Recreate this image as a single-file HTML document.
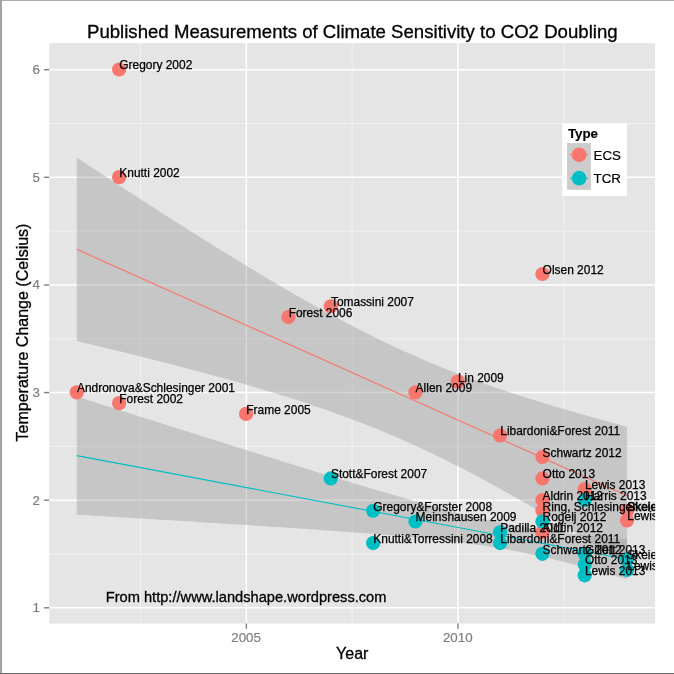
<!DOCTYPE html>
<html><head><meta charset="utf-8"><title>Published Measurements of Climate Sensitivity to CO2 Doubling</title>
<style>html,body{margin:0;padding:0;background:#fff;}body{width:674px;height:674px;overflow:hidden;}svg{display:block;}text{font-family:"Liberation Sans",sans-serif;}</style></head><body>
<svg width="674" height="674" viewBox="0 0 674 674">
<rect x="0" y="0" width="674" height="674" fill="#ffffff"/>
<rect x="0" y="0" width="674" height="1" fill="#ababab"/>
<rect x="0" y="0" width="2" height="674" fill="#a3a3a3"/>
<rect x="0" y="673" width="674" height="1" fill="#6e6e6e"/>
<defs><clipPath id="pc"><rect x="49.2" y="43.1" width="605.9" height="580.5"/></clipPath></defs>
<rect x="49.2" y="43.1" width="605.90" height="580.50" fill="#E5E5E5"/>
<g clip-path="url(#pc)">
<line x1="49.2" x2="655.1" y1="553.99" y2="553.99" stroke="#F2F2F2" stroke-width="0.9"/>
<line x1="49.2" x2="655.1" y1="446.37" y2="446.37" stroke="#F2F2F2" stroke-width="0.9"/>
<line x1="49.2" x2="655.1" y1="338.75" y2="338.75" stroke="#F2F2F2" stroke-width="0.9"/>
<line x1="49.2" x2="655.1" y1="231.13" y2="231.13" stroke="#F2F2F2" stroke-width="0.9"/>
<line x1="49.2" x2="655.1" y1="123.51" y2="123.51" stroke="#F2F2F2" stroke-width="0.9"/>
<line y1="43.1" y2="623.6" x1="140.53" x2="140.53" stroke="#F2F2F2" stroke-width="0.9"/>
<line y1="43.1" y2="623.6" x1="352.17" x2="352.17" stroke="#F2F2F2" stroke-width="0.9"/>
<line y1="43.1" y2="623.6" x1="563.82" x2="563.82" stroke="#F2F2F2" stroke-width="0.9"/>
<line x1="49.2" x2="655.1" y1="607.80" y2="607.80" stroke="#FFFFFF" stroke-width="1.5"/>
<line x1="49.2" x2="655.1" y1="500.18" y2="500.18" stroke="#FFFFFF" stroke-width="1.5"/>
<line x1="49.2" x2="655.1" y1="392.56" y2="392.56" stroke="#FFFFFF" stroke-width="1.5"/>
<line x1="49.2" x2="655.1" y1="284.94" y2="284.94" stroke="#FFFFFF" stroke-width="1.5"/>
<line x1="49.2" x2="655.1" y1="177.32" y2="177.32" stroke="#FFFFFF" stroke-width="1.5"/>
<line x1="49.2" x2="655.1" y1="69.70" y2="69.70" stroke="#FFFFFF" stroke-width="1.5"/>
<line y1="43.1" y2="623.6" x1="246.35" x2="246.35" stroke="#FFFFFF" stroke-width="1.5"/>
<line y1="43.1" y2="623.6" x1="458.00" x2="458.00" stroke="#FFFFFF" stroke-width="1.5"/>
<polygon points="76.78,157.58 83.75,162.17 90.71,166.74 97.68,171.31 104.64,175.87 111.61,180.42 118.57,184.96 125.54,189.49 132.51,194.01 139.47,198.52 146.44,203.01 153.40,207.50 160.37,211.97 167.33,216.43 174.30,220.88 181.27,225.31 188.23,229.72 195.20,234.12 202.16,238.50 209.13,242.86 216.09,247.20 223.06,251.52 230.03,255.81 236.99,260.09 243.96,264.33 250.92,268.56 257.89,272.75 264.85,276.92 271.82,281.05 278.79,285.15 285.75,289.22 292.72,293.25 299.68,297.24 306.65,301.19 313.61,305.10 320.58,308.96 327.55,312.78 334.51,316.55 341.48,320.26 348.44,323.93 355.41,327.54 362.37,331.10 369.34,334.60 376.30,338.03 383.27,341.41 390.24,344.73 397.20,347.99 404.17,351.18 411.13,354.31 418.10,357.37 425.06,360.38 432.03,363.32 439.00,366.20 445.96,369.01 452.93,371.77 459.89,374.47 466.86,377.12 473.82,379.71 480.79,382.24 487.76,384.73 494.72,387.17 501.69,389.55 508.65,391.90 515.62,394.20 522.58,396.46 529.55,398.68 536.52,400.86 543.48,403.01 550.45,405.13 557.41,407.21 564.38,409.26 571.34,411.29 578.31,413.29 585.28,415.26 592.24,417.21 599.21,419.13 606.17,421.04 613.14,422.92 620.10,424.79 627.07,426.64 627.07,564.84 620.10,560.45 613.14,556.08 606.17,551.72 599.21,547.39 592.24,543.08 585.28,538.79 578.31,534.52 571.34,530.28 564.38,526.07 557.41,521.88 550.45,517.73 543.48,513.60 536.52,509.51 529.55,505.46 522.58,501.44 515.62,497.46 508.65,493.52 501.69,489.63 494.72,485.78 487.76,481.98 480.79,478.22 473.82,474.52 466.86,470.87 459.89,467.28 452.93,463.74 445.96,460.26 439.00,456.84 432.03,453.48 425.06,450.18 418.10,446.95 411.13,443.78 404.17,440.67 397.20,437.62 390.24,434.64 383.27,431.71 376.30,428.85 369.34,426.05 362.37,423.31 355.41,420.63 348.44,418.00 341.48,415.43 334.51,412.91 327.55,410.44 320.58,408.02 313.61,405.64 306.65,403.31 299.68,401.03 292.72,398.78 285.75,396.57 278.79,394.40 271.82,392.26 264.85,390.15 257.89,388.08 250.92,386.04 243.96,384.02 236.99,382.03 230.03,380.07 223.06,378.12 216.09,376.20 209.13,374.31 202.16,372.43 195.20,370.57 188.23,368.73 181.27,366.90 174.30,365.09 167.33,363.30 160.37,361.52 153.40,359.75 146.44,358.00 139.47,356.26 132.51,354.53 125.54,352.81 118.57,351.10 111.61,349.40 104.64,347.72 97.68,346.04 90.71,344.36 83.75,342.70 76.78,341.04" fill="#999999" fill-opacity="0.4"/>
<line x1="76.78" y1="249.31" x2="627.07" y2="495.74" stroke="#F8766D" stroke-width="1.15"/>
<polygon points="76.78,396.54 83.75,398.75 90.71,400.96 97.68,403.17 104.64,405.38 111.61,407.59 118.57,409.80 125.54,412.01 132.51,414.22 139.47,416.43 146.44,418.63 153.40,420.83 160.37,423.04 167.33,425.24 174.30,427.44 181.27,429.64 188.23,431.84 195.20,434.03 202.16,436.23 209.13,438.42 216.09,440.61 223.06,442.80 230.03,444.98 236.99,447.17 243.96,449.35 250.92,451.53 257.89,453.71 264.85,455.88 271.82,458.05 278.79,460.22 285.75,462.38 292.72,464.54 299.68,466.69 306.65,468.84 313.61,470.99 320.58,473.13 327.55,475.26 334.51,477.39 341.48,479.51 348.44,481.62 355.41,483.72 362.37,485.81 369.34,487.90 376.30,489.97 383.27,492.03 390.24,494.07 397.20,496.10 404.17,498.11 411.13,500.10 418.10,502.06 425.06,504.01 432.03,505.92 439.00,507.81 445.96,509.66 452.93,511.48 459.89,513.25 466.86,514.98 473.82,516.66 480.79,518.29 487.76,519.85 494.72,521.36 501.69,522.81 508.65,524.19 515.62,525.50 522.58,526.75 529.55,527.93 536.52,529.04 543.48,530.10 550.45,531.10 557.41,532.05 564.38,532.95 571.34,533.80 578.31,534.61 585.28,535.38 592.24,536.12 599.21,536.83 606.17,537.51 613.14,538.17 620.10,538.80 627.07,539.42 627.07,579.18 620.10,577.17 613.14,575.18 606.17,573.21 599.21,571.26 592.24,569.35 585.28,567.46 578.31,565.61 571.34,563.80 564.38,562.02 557.41,560.29 550.45,558.62 543.48,556.99 536.52,555.42 529.55,553.92 522.58,552.47 515.62,551.09 508.65,549.78 501.69,548.54 494.72,547.35 487.76,546.24 480.79,545.18 473.82,544.18 466.86,543.24 459.89,542.34 452.93,541.49 445.96,540.68 439.00,539.90 432.03,539.16 425.06,538.46 418.10,537.77 411.13,537.12 404.17,536.48 397.20,535.87 390.24,535.27 383.27,534.69 376.30,534.12 369.34,533.57 362.37,533.02 355.41,532.49 348.44,531.97 341.48,531.46 334.51,530.95 327.55,530.45 320.58,529.96 313.61,529.47 306.65,528.99 299.68,528.52 292.72,528.05 285.75,527.58 278.79,527.12 271.82,526.66 264.85,526.21 257.89,525.75 250.92,525.31 243.96,524.86 236.99,524.42 230.03,523.98 223.06,523.54 216.09,523.10 209.13,522.67 202.16,522.23 195.20,521.80 188.23,521.37 181.27,520.95 174.30,520.52 167.33,520.09 160.37,519.67 153.40,519.25 146.44,518.83 139.47,518.41 132.51,517.99 125.54,517.57 118.57,517.15 111.61,516.74 104.64,516.32 97.68,515.91 90.71,515.49 83.75,515.08 76.78,514.67" fill="#999999" fill-opacity="0.4"/>
<line x1="76.78" y1="455.60" x2="627.07" y2="559.30" stroke="#00BFC4" stroke-width="1.15"/>
<circle cx="119.11" cy="69.50" r="7.1" fill="#F8766D"/>
<circle cx="119.11" cy="177.12" r="7.1" fill="#F8766D"/>
<circle cx="542.41" cy="273.98" r="7.1" fill="#F8766D"/>
<circle cx="330.76" cy="306.26" r="7.1" fill="#F8766D"/>
<circle cx="288.43" cy="317.03" r="7.1" fill="#F8766D"/>
<circle cx="457.75" cy="381.60" r="7.1" fill="#F8766D"/>
<circle cx="415.42" cy="392.36" r="7.1" fill="#F8766D"/>
<circle cx="76.78" cy="392.36" r="7.1" fill="#F8766D"/>
<circle cx="119.11" cy="403.12" r="7.1" fill="#F8766D"/>
<circle cx="246.10" cy="413.88" r="7.1" fill="#F8766D"/>
<circle cx="500.08" cy="435.41" r="7.1" fill="#F8766D"/>
<circle cx="542.41" cy="456.93" r="7.1" fill="#F8766D"/>
<circle cx="542.41" cy="478.46" r="7.1" fill="#F8766D"/>
<circle cx="584.74" cy="489.22" r="7.1" fill="#F8766D"/>
<circle cx="542.41" cy="499.98" r="7.1" fill="#F8766D"/>
<circle cx="542.41" cy="510.74" r="7.1" fill="#F8766D"/>
<circle cx="627.07" cy="510.74" r="7.1" fill="#F8766D"/>
<circle cx="627.07" cy="520.43" r="7.1" fill="#F8766D"/>
<circle cx="542.41" cy="532.27" r="7.1" fill="#F8766D"/>
<circle cx="330.76" cy="478.46" r="7.1" fill="#00BFC4"/>
<circle cx="373.09" cy="510.74" r="7.1" fill="#00BFC4"/>
<circle cx="415.42" cy="521.50" r="7.1" fill="#00BFC4"/>
<circle cx="373.09" cy="543.03" r="7.1" fill="#00BFC4"/>
<circle cx="500.08" cy="532.27" r="7.1" fill="#00BFC4"/>
<circle cx="500.08" cy="543.03" r="7.1" fill="#00BFC4"/>
<circle cx="542.41" cy="521.50" r="7.1" fill="#00BFC4"/>
<circle cx="584.74" cy="499.98" r="7.1" fill="#00BFC4"/>
<circle cx="542.41" cy="553.79" r="7.1" fill="#00BFC4"/>
<circle cx="584.74" cy="553.79" r="7.1" fill="#00BFC4"/>
<circle cx="584.74" cy="564.55" r="7.1" fill="#00BFC4"/>
<circle cx="584.74" cy="575.31" r="7.1" fill="#00BFC4"/>
<circle cx="627.07" cy="559.17" r="7.1" fill="#00BFC4"/>
<circle cx="627.07" cy="569.93" r="7.1" fill="#00BFC4"/>
<g font-size="11.95" fill="#000000" stroke="#000000" stroke-width="0.25">
<text x="119.31" y="69.40">Gregory 2002</text>
<text x="119.31" y="177.02">Knutti 2002</text>
<text x="542.61" y="273.88">Olsen 2012</text>
<text x="330.96" y="306.16">Tomassini 2007</text>
<text x="288.63" y="316.93">Forest 2006</text>
<text x="457.95" y="381.50">Lin 2009</text>
<text x="415.62" y="392.26">Allen 2009</text>
<text x="76.98" y="392.26">Andronova&amp;Schlesinger 2001</text>
<text x="119.31" y="403.02">Forest 2002</text>
<text x="246.30" y="413.78">Frame 2005</text>
<text x="500.28" y="435.31">Libardoni&amp;Forest 2011</text>
<text x="542.61" y="456.83">Schwartz 2012</text>
<text x="542.61" y="478.36">Otto 2013</text>
<text x="584.94" y="489.12">Lewis 2013</text>
<text x="542.61" y="499.88">Aldrin 2012</text>
<text x="542.61" y="510.64">Ring, Schlesinger</text>
<text x="627.27" y="510.64" stroke-width="0.7">Skeie 2014</text>
<text x="627.27" y="520.33">Lewis 2014</text>
<text x="542.61" y="532.17">Aldrin 2012</text>
<text x="330.96" y="478.36">Stott&amp;Forest 2007</text>
<text x="373.29" y="510.64">Gregory&amp;Forster 2008</text>
<text x="415.62" y="521.40">Meinshausen 2009</text>
<text x="373.29" y="542.93">Knutti&amp;Torressini 2008</text>
<text x="500.28" y="532.17">Padilla 2011</text>
<text x="500.28" y="542.93">Libardoni&amp;Forest 2011</text>
<text x="542.61" y="521.40">Rogelj 2012</text>
<text x="584.94" y="499.88">Harris 2013</text>
<text x="542.61" y="553.69">Schwartz 2012</text>
<text x="584.94" y="553.69">Gillett 2013</text>
<text x="584.94" y="564.45">Otto 2013</text>
<text x="584.94" y="575.21">Lewis 2013</text>
<text x="627.27" y="559.07">Skeie 2014</text>
<text x="627.27" y="569.83">Lewis 2014</text>
</g>
<text x="246.10" y="601.8" font-size="14.65" text-anchor="middle" fill="#000" stroke="#000" stroke-width="0.3">From http://www.landshape.wordpress.com</text>
</g>
<line x1="43.9" x2="49.2" y1="607.80" y2="607.80" stroke="#7F7F7F" stroke-width="1.4"/>
<text x="39.8" y="612.20" font-size="13.33" text-anchor="end" fill="#7F7F7F" stroke="#7F7F7F" stroke-width="0.2">1</text>
<line x1="43.9" x2="49.2" y1="500.18" y2="500.18" stroke="#7F7F7F" stroke-width="1.4"/>
<text x="39.8" y="504.58" font-size="13.33" text-anchor="end" fill="#7F7F7F" stroke="#7F7F7F" stroke-width="0.2">2</text>
<line x1="43.9" x2="49.2" y1="392.56" y2="392.56" stroke="#7F7F7F" stroke-width="1.4"/>
<text x="39.8" y="396.96" font-size="13.33" text-anchor="end" fill="#7F7F7F" stroke="#7F7F7F" stroke-width="0.2">3</text>
<line x1="43.9" x2="49.2" y1="284.94" y2="284.94" stroke="#7F7F7F" stroke-width="1.4"/>
<text x="39.8" y="289.34" font-size="13.33" text-anchor="end" fill="#7F7F7F" stroke="#7F7F7F" stroke-width="0.2">4</text>
<line x1="43.9" x2="49.2" y1="177.32" y2="177.32" stroke="#7F7F7F" stroke-width="1.4"/>
<text x="39.8" y="181.72" font-size="13.33" text-anchor="end" fill="#7F7F7F" stroke="#7F7F7F" stroke-width="0.2">5</text>
<line x1="43.9" x2="49.2" y1="69.70" y2="69.70" stroke="#7F7F7F" stroke-width="1.4"/>
<text x="39.8" y="74.10" font-size="13.33" text-anchor="end" fill="#7F7F7F" stroke="#7F7F7F" stroke-width="0.2">6</text>
<line y1="623.6" y2="628.7" x1="246.35" x2="246.35" stroke="#7F7F7F" stroke-width="1.4"/>
<text x="246.10" y="642.2" font-size="13.33" text-anchor="middle" fill="#7F7F7F" stroke="#7F7F7F" stroke-width="0.2">2005</text>
<line y1="623.6" y2="628.7" x1="458.00" x2="458.00" stroke="#7F7F7F" stroke-width="1.4"/>
<text x="457.75" y="642.2" font-size="13.33" text-anchor="middle" fill="#7F7F7F" stroke="#7F7F7F" stroke-width="0.2">2010</text>
<text x="352.3" y="37.7" font-size="18.63" text-anchor="middle" fill="#000" stroke="#000" stroke-width="0.3">Published Measurements of Climate Sensitivity to CO2 Doubling</text>
<text x="352.2" y="658.9" font-size="16" text-anchor="middle" fill="#000" stroke="#000" stroke-width="0.3">Year</text>
<text transform="translate(28,332.5) rotate(-90)" font-size="16" text-anchor="middle" fill="#000" stroke="#000" stroke-width="0.3">Temperature Change (Celsius)</text>
<rect x="562.2" y="123.4" width="64.7" height="72.6" fill="#FFFFFF"/>
<text x="567.9" y="137.9" font-size="13.33" font-weight="bold" fill="#000" stroke="#000" stroke-width="0.15">Type</text>
<rect x="567.05" y="143.05" width="23.8" height="46.8" fill="#CCCCCC"/>
<line x1="569.9" x2="588.3" y1="154.80" y2="154.80" stroke="#F8766D" stroke-width="1.0"/>
<circle cx="579.1" cy="154.80" r="7.35" fill="#F8766D"/>
<text x="593.5" y="159.70" font-size="13.33" fill="#000" stroke="#000" stroke-width="0.2">ECS</text>
<line x1="569.9" x2="588.3" y1="178.20" y2="178.20" stroke="#00BFC4" stroke-width="1.0"/>
<circle cx="579.1" cy="178.20" r="7.35" fill="#00BFC4"/>
<text x="593.5" y="183.10" font-size="13.33" fill="#000" stroke="#000" stroke-width="0.2">TCR</text>
</svg></body></html>
